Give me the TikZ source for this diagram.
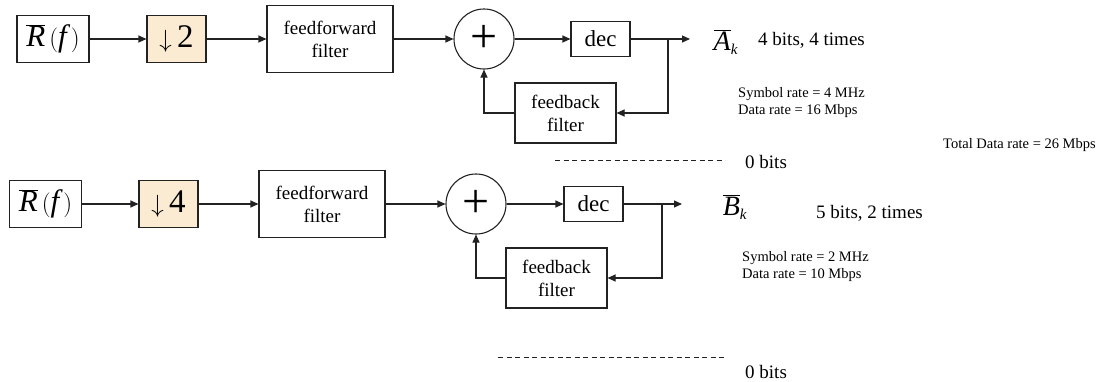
\documentclass[tikz,border=0pt]{standalone}
\usepackage{fontspec}
\setmainfont{Liberation Serif}
\usetikzlibrary{arrows.meta}
\definecolor{downfill}{HTML}{FBEBD2}
\definecolor{edge}{HTML}{222222}
\newcommand{\rsig}{$\overline{\textit{R}}\,(\textit{f}\,)$}
\newcommand{\outsig}[1]{$\overline{\mbox{\textit{#1}}}_{\mbox{\fontsize{15}{15}\selectfont\textit{k}}}$}
\begin{document}
\begin{tikzpicture}[x=1pt,y=-1pt,
  box/.style={draw=edge, line width=1.1pt, inner sep=0pt, align=center, font=\fontsize{19}{23}\selectfont},
  sigbox/.style={box, minimum width=72pt, minimum height=47pt, font=\fontsize{31}{33}\selectfont},
  downbox/.style={box, fill=downfill, minimum width=59pt, minimum height=47pt, font=\fontsize{33}{35}\selectfont},
  ffbox/.style={box, minimum width=126pt, minimum height=67pt},
  fbbox/.style={box, minimum width=101pt, minimum height=60pt},
  decbox/.style={box, minimum width=59pt, minimum height=35pt, font=\fontsize{23}{25}\selectfont},
  sumnode/.style={draw=edge, line width=1.1pt, circle, minimum size=60pt, inner sep=0pt, font=\fontsize{48}{48}\selectfont},
  arr/.style={-{Triangle[length=8pt,width=7pt]}, line width=1.1pt, draw=edge},
  lbl/.style={anchor=west, inner sep=0pt, font=\fontsize{19}{22}\selectfont},
  small/.style={anchor=west, inner sep=0pt, align=left, font=\fontsize{14.5}{17}\selectfont},
  outsym/.style={inner sep=0pt, font=\fontsize{28}{30}\selectfont},
  dsh/.style={line width=1pt, draw=edge, dash pattern=on 5pt off 3.5pt}
]
\useasboundingbox (0,0) rectangle (1114,381);

% ---------- top row ----------
\node[sigbox] (rf1) at (53,39) {\rsig};
\node[downbox] (d1) at (176.5,39) {$\downarrow$\,2};
\node[ffbox] (ff1) at (330,39) {feedforward\\filter};
\node[sumnode] (s1) at (484,39) {+};
\node[decbox] (dec1) at (600.5,39) {dec};
\node[fbbox] (fb1) at (565.5,113) {feedback\\filter};
\coordinate (o1) at (690,39);
\coordinate (b1) at (668,39);
\draw[arr] (rf1) -- (d1);
\draw[arr] (d1) -- (ff1);
\draw[arr] (ff1) -- (s1);
\draw[arr] (s1) -- (dec1);
\draw[arr] (dec1) -- (o1);
\draw[arr] (b1) |- (fb1.east);
\draw[arr] (fb1.west) -| (s1.south);

\node[outsym] (a1) at (726,42) {\outsig{A}};
\node[lbl] (t1) at (758,40) {4 bits, 4 times};
\node[small] (r1) at (738,103) {Symbol rate = 4 MHz\\Data rate = 16 Mbps};
\node[small] (tot) at (943,145) {Total Data rate = 26 Mbps};
\coordinate (da1) at (555,160);
\coordinate (db1) at (725,160);
\draw[dsh] (da1) -- (db1);
\node[lbl] (z1) at (745,162) {0 bits};

% ---------- bottom row ----------
\node[sigbox] (rf2) at (45.5,204) {\rsig};
\node[downbox] (d2) at (168.5,204) {$\downarrow$\,4};
\node[ffbox] (ff2) at (322,204) {feedforward\\filter};
\node[sumnode] (s2) at (476,204) {+};
\node[decbox] (dec2) at (593.5,204) {dec};
\node[fbbox] (fb2) at (556.5,278) {feedback\\filter};
\coordinate (o2) at (682,204);
\coordinate (b2) at (662,204);
\draw[arr] (rf2) -- (d2);
\draw[arr] (d2) -- (ff2);
\draw[arr] (ff2) -- (s2);
\draw[arr] (s2) -- (dec2);
\draw[arr] (dec2) -- (o2);
\draw[arr] (b2) |- (fb2.east);
\draw[arr] (fb2.west) -| (s2.south);

\node[outsym] (bk) at (735,207) {\outsig{B}};
\node[lbl] (t2) at (816,213) {5 bits, 2 times};
\node[small] (r2) at (742,267) {Symbol rate = 2 MHz\\Data rate = 10 Mbps};
\coordinate (da2) at (498,357);
\coordinate (db2) at (725,357);
\draw[dsh] (da2) -- (db2);
\node[lbl] (z2) at (745,372) {0 bits};
\end{tikzpicture}
\end{document}
